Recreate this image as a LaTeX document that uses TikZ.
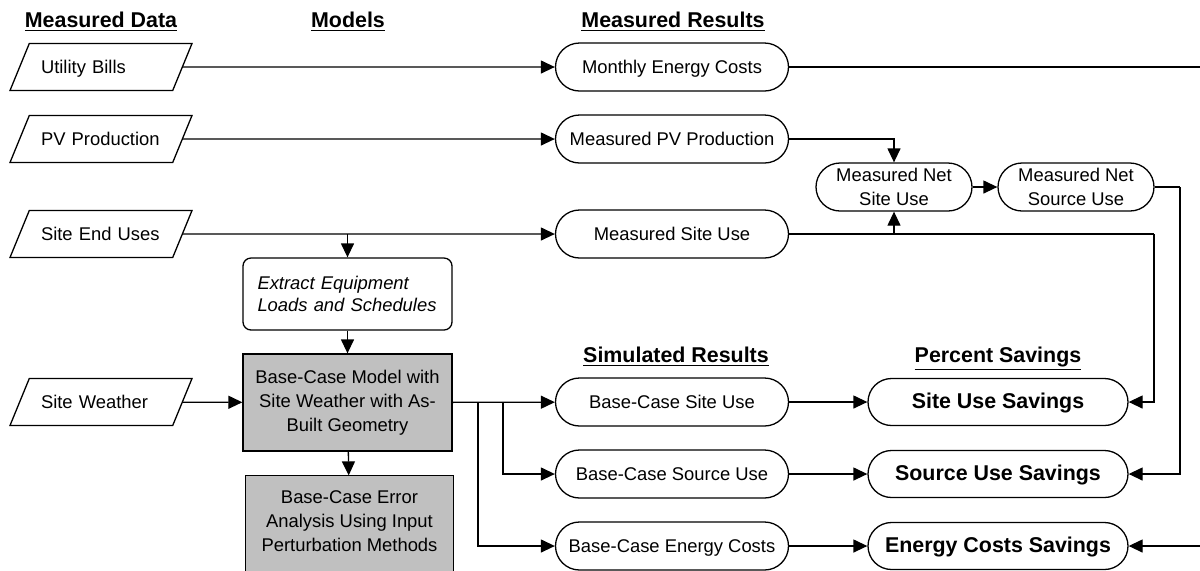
\documentclass[tikz,border=0pt]{standalone}
\usepackage{fontspec}
\setmainfont{Liberation Sans}
\usetikzlibrary{arrows.meta,positioning,calc,shapes.geometric,backgrounds}
\definecolor{boxgray}{HTML}{C0C0C0}

\begin{document}
\begin{tikzpicture}[x=0.5pt,y=-0.5pt,
  line width=0.65pt,
  every node/.style={font=\fontsize{9.2}{12}\selectfont},
  arr/.style={-{Triangle[length=7pt,width=6.5pt]}},
  head/.style={font=\fontsize{10.7}{13}\selectfont\bfseries,anchor=base,inner sep=0pt},
  datain/.style={draw,trapezium,trapezium left angle=60,trapezium right angle=120,
    trapezium stretches body,minimum width=91pt,minimum height=23.5pt,
    text width=60pt,inner xsep=0pt,align=left,text height=1.6ex,text depth=.3ex},
  result/.style={draw,rounded corners=12pt,minimum width=116.5pt,minimum height=24pt,
    inner ysep=0pt,align=center,text height=1.6ex,text depth=.3ex},
  netuse/.style={draw,rounded corners=12pt,minimum width=78pt,minimum height=24pt,
    inner ysep=0pt,align=center},
  saving/.style={draw,rounded corners=11.75pt,minimum width=130pt,minimum height=23.5pt,
    inner ysep=0pt,font=\fontsize{10.7}{13}\selectfont\bfseries,
    text height=1.6ex,text depth=.3ex},
  modelbox/.style={draw,minimum width=104.5pt,align=center,inner ysep=0pt}]
\useasboundingbox (0,0) rectangle (1200,570);
\clip (0,0) rectangle (1200,570);

\node[head] (hdata) at (101,27) {\underline{Measured Data}};
\node[head] (hmod) at (348,27) {\underline{Models}};
\node[head] (hmeas) at (673,27) {\underline{Measured Results}};
\node[head] (hsim) at (676,362) {\underline{Simulated Results}};
\node[head] (hpct) at (998,362) {\underline{Percent Savings}};

\node[datain] (bills) at (101,67) {Utility Bills};
\node[datain] (pvprod) at (101,139) {PV Production};
\node[datain] (enduse) at (101,234) {Site End Uses};
\node[datain] (weather) at (101,402) {Site Weather};

\node[result] (mcost) at (672,67) {Monthly Energy Costs};
\node[result] (mpv) at (672,139) {Measured PV Production};
\node[result] (msite) at (672,234) {Measured Site Use};
\node[netuse] (netsite) at (894,187) {Measured Net\\Site Use};
\node[netuse] (netsrc) at (1076,187) {Measured Net\\Source Use};

\node[modelbox,rounded corners=4pt,minimum height=36pt,text width=90pt,align=left,
  font=\fontsize{9.2}{11}\selectfont\itshape] (extract) at (347.5,294)
  {Extract Equipment\\Loads and Schedules};
\node[modelbox,fill=boxgray,minimum height=48.5pt] (base) at (347.5,402.5)
  {Base-Case Model with\\Site Weather with As-\\Built Geometry};
\node[minimum width=103.5pt,minimum height=45.5pt,align=center,inner ysep=0pt]
  (err) at (349.5,521.5) {Base-Case Error\\Analysis Using Input\\Perturbation Methods};
\begin{scope}[on background layer]
\fill[boxgray] (err.north west) rectangle ([yshift=-20pt]err.south east);
\draw ([yshift=-20pt]err.south west) -- (err.north west) -- (err.north east)
  -- ([yshift=-20pt]err.south east);
\end{scope}

\node[result] (bsite) at (672,402) {Base-Case Site Use};
\node[result] (bsrc) at (672,474) {Base-Case Source Use};
\node[result] (bcost) at (672,546) {Base-Case Energy Costs};

\node[saving] (ssite) at (998,402) {Site Use Savings};
\node[saving] (ssrc) at (998,474) {Source Use Savings};
\node[saving] (scost) at (998,546) {Energy Costs Savings};

\coordinate (offA) at (1210,67);
\coordinate (offB) at (1210,546);
\coordinate (brEnd) at (347.5,234);
\coordinate (brNet) at (894,234);
\coordinate (turnSite) at (1154,234);
\coordinate (turnSrc) at (1180,187);
\coordinate (brSrc) at (503,402);
\coordinate (brCost) at (478,402);

\draw[arr] (bills) -- (mcost);
\draw (mcost) -- (offA);
\draw[arr] (pvprod) -- (mpv);
\draw[arr] (mpv) -| (netsite);
\draw[arr] (netsite) -- (netsrc);
\draw (netsrc) -- (turnSrc);
\draw[arr] (turnSrc) |- (ssrc);
\draw[arr] (enduse) -- (msite);
\draw[arr] (brEnd) -- (extract);
\draw (msite) -- (turnSite);
\draw[arr] (turnSite) |- (ssite);
\draw[arr] (brNet) -- (netsite);
\draw[arr] (extract) -- (base);
\draw[arr] (base) -- (err);
\draw[arr] (weather) -- (base);
\draw[arr] (base) -- (bsite);
\draw[arr] (brSrc) |- (bsrc);
\draw[arr] (brCost) |- (bcost);
\draw[arr] (bsite) -- (ssite);
\draw[arr] (bsrc) -- (ssrc);
\draw[arr] (bcost) -- (scost);
\draw[arr] (offB) -- (scost);
\end{tikzpicture}
\end{document}
